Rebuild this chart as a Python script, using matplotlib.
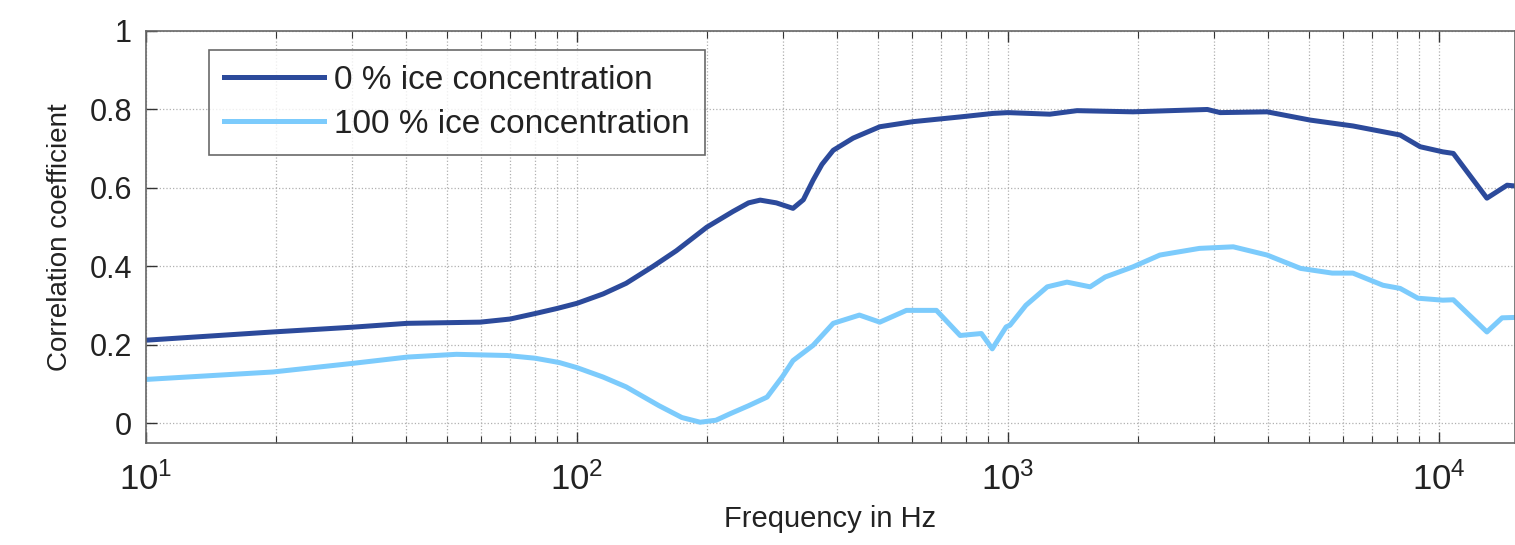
import numpy as np
import matplotlib.pyplot as plt
from matplotlib.ticker import LogLocator, NullFormatter

plt.rcParams['font.family'] = ['Liberation Sans', 'DejaVu Sans']
plt.rcParams['mathtext.fontset'] = 'custom'
plt.rcParams['mathtext.rm'] = 'Liberation Sans'

# 0 % ice concentration
f_ice0 = [10, 19.7, 30, 40.4, 59.6, 70, 80, 90, 100, 115, 130, 150, 170, 200, 230, 250, 266,
          290, 317, 335, 353, 370, 393, 437, 504, 602, 774, 923, 1000, 1250, 1445, 1950,
          2900, 3105, 3990, 5020, 6310, 8120, 9040, 10200, 10790, 12910, 14380, 15000]
r_ice0 = [0.212, 0.233, 0.245, 0.255, 0.258, 0.266, 0.28, 0.293, 0.306, 0.33, 0.357, 0.4,
          0.44, 0.5, 0.54, 0.562, 0.569, 0.562, 0.548, 0.57, 0.62, 0.66, 0.696, 0.727, 0.756,
          0.769, 0.781, 0.79, 0.792, 0.788, 0.797, 0.794, 0.8, 0.792, 0.794, 0.773, 0.758,
          0.735, 0.705, 0.692, 0.688, 0.574, 0.607, 0.605]

# 100 % ice concentration
f_ice100 = [10, 19.7, 30.2, 40.4, 52.5, 68.8, 80, 91, 100, 115, 130, 155, 175, 193, 210,
            227, 250, 276, 300, 317, 353, 393, 452, 504, 581, 682, 774, 867, 919, 990, 1010,
            1100, 1233, 1370, 1550, 1680, 1950, 2250, 2780, 3330, 3990, 4770, 5650, 6310,
            7410, 8120, 8930, 10200, 10790, 12910, 14000, 15000]
r_ice100 = [0.112, 0.131, 0.153, 0.169, 0.176, 0.173, 0.166, 0.155, 0.142, 0.118, 0.093,
            0.045, 0.015, 0.003, 0.008, 0.025, 0.045, 0.067, 0.12, 0.16, 0.199, 0.255, 0.276,
            0.258, 0.288, 0.288, 0.224, 0.229, 0.19, 0.246, 0.25, 0.301, 0.348, 0.36, 0.348,
            0.373, 0.399, 0.429, 0.446, 0.45, 0.429, 0.395, 0.383, 0.383, 0.352, 0.344,
            0.319, 0.314, 0.315, 0.233, 0.269, 0.27]

fig = plt.figure(figsize=(15.15, 5.45), dpi=100)
ax = fig.add_axes([146/1515, 1 - 443/545, 1 - 146/1515, (443 - 31)/545])

ax.semilogx(f_ice0, r_ice0, color='#2c4a9b', lw=3.6, label='0 % ice concentration')
ax.semilogx(f_ice100, r_ice100, color='#7ccbfc', lw=3.6, label='100 % ice concentration')

ax.set_xlim(10, 15000)
ax.set_ylim(-0.05, 1)
ax.set_yticks([0, 0.2, 0.4, 0.6, 0.8, 1])
ax.set_yticklabels(['0', '0.2', '0.4', '0.6', '0.8', '1'])
ax.xaxis.set_major_locator(LogLocator(base=10, numticks=10))
ax.xaxis.set_minor_locator(LogLocator(base=10, subs=np.arange(2, 10), numticks=20))
ax.xaxis.set_minor_formatter(NullFormatter())

ax.grid(True, which='both', axis='x', linestyle=':', color='#b0b0b0', lw=0.9)
ax.grid(True, which='major', axis='y', linestyle=':', color='#b0b0b0', lw=0.9)

ax.tick_params(which='both', direction='in', top=True, right=False, colors='#333333',
               labelcolor='#222222')
ax.tick_params(which='major', length=8, width=1)
ax.tick_params(which='minor', length=5, width=0.8)
ax.tick_params(axis='y', labelsize=22, pad=10)
ax.tick_params(axis='x', labelsize=25, pad=14)
for s in ax.spines.values():
    s.set_color('#666666')
    s.set_linewidth(1.2)

ax.set_xlabel('Frequency in Hz', fontsize=21, color='#222222', labelpad=6)
ax.set_ylabel('Correlation coefficient', fontsize=20, color='#222222', labelpad=12)

leg = ax.legend(loc='upper left', bbox_to_anchor=(0.046, 0.955), fontsize=24,
                frameon=True, fancybox=False, handlelength=3.0, borderpad=0.45,
                labelspacing=0.4, handletextpad=0.3, borderaxespad=0)
leg.get_frame().set_edgecolor('#444444')
leg.get_frame().set_linewidth(1.2)
for t in leg.get_texts():
    t.set_color('#222222')

fig.savefig('out.png', dpi=100)
